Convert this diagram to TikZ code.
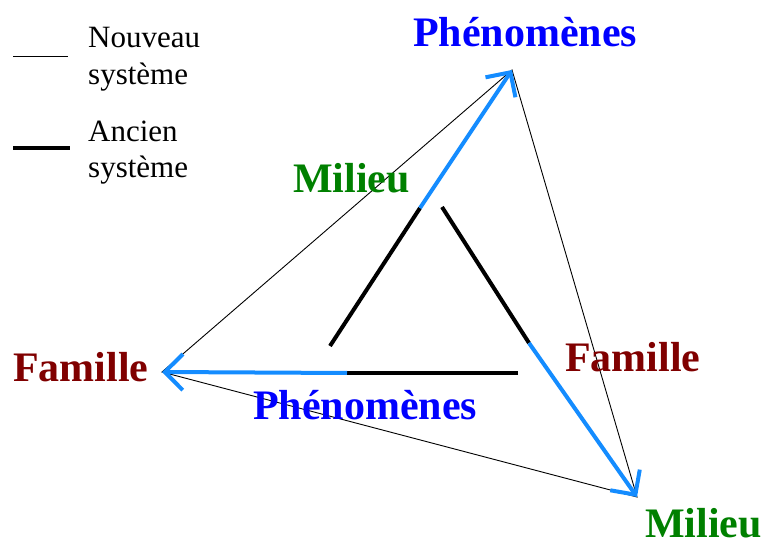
\documentclass[tikz,border=0pt]{standalone}
\usepackage{fontspec}
\setmainfont{Liberation Serif}
\usetikzlibrary{arrows.meta}
\definecolor{arrowblue}{RGB}{20,140,255}
\definecolor{txtblue}{RGB}{0,0,255}
\definecolor{txtgreen}{RGB}{0,128,0}
\definecolor{txtred}{RGB}{128,0,0}
\tikzset{
  thinline/.style={black, line width=0.9pt},
  oldline/.style={black, line width=4pt},
  bluearrow/.style={arrowblue, line width=4pt, -{Straight Barb[length=18pt, width=36pt, line width=4pt]}},
  legendtxt/.style={anchor=base west, inner sep=0pt, font=\fontsize{31}{37}\selectfont},
  lbl/.style={anchor=base west, inner sep=0pt, font=\fontsize{42}{48}\selectfont\bfseries},
}
\begin{document}
\begin{tikzpicture}[x=1pt, y=-1pt]
\useasboundingbox (0,0) rectangle (764,545);
% legend
\coordinate (l1a) at (13,56);
\coordinate (l1b) at (68,56);
\coordinate (l2a) at (13,148);
\coordinate (l2b) at (70,148);
\draw[thinline] (l1a) -- (l1b);
\draw[oldline] (l2a) -- (l2b);
\node[legendtxt] (n1) at (88,48) {Nouveau};
\node[legendtxt] (n2) at (88,85) {système};
\node[legendtxt] (a1) at (88,142) {Ancien};
\node[legendtxt] (a2) at (88,178) {système};
% vertices
\coordinate (T) at (512,70);
\coordinate (L) at (162,372);
\coordinate (R) at (637,497);
% thin triangle
\draw[thinline] (L) -- (T) -- (R) -- cycle;
% old system segments
\coordinate (o1a) at (330,346);
\coordinate (o1b) at (420,208);
\coordinate (o2a) at (442,207);
\coordinate (o2b) at (529,343);
\coordinate (o3a) at (518,373);
\coordinate (o3b) at (347,373);
\draw[oldline] (o1a) -- (o1b);
\draw[oldline] (o2a) -- (o2b);
\draw[oldline] (o3a) -- (o3b);
% blue arrows
\draw[bluearrow] (o1b) -- (T);
\draw[bluearrow] (o2b) -- (R);
\draw[bluearrow] (o3b) -- (L);
% labels
\node[lbl, txtblue] (pt) at (413,47) {Phénomènes};
\node[lbl, txtgreen] (mm) at (293,193) {Milieu};
\node[lbl, txtred] (fl) at (13,382) {Famille};
\node[lbl, txtblue] (pb) at (253,420) {Phénomènes};
\node[lbl, txtred] (fr) at (565,372) {Famille};
\node[lbl, txtgreen] (mr) at (645,537) {Milieu};
\end{tikzpicture}
\end{document}
